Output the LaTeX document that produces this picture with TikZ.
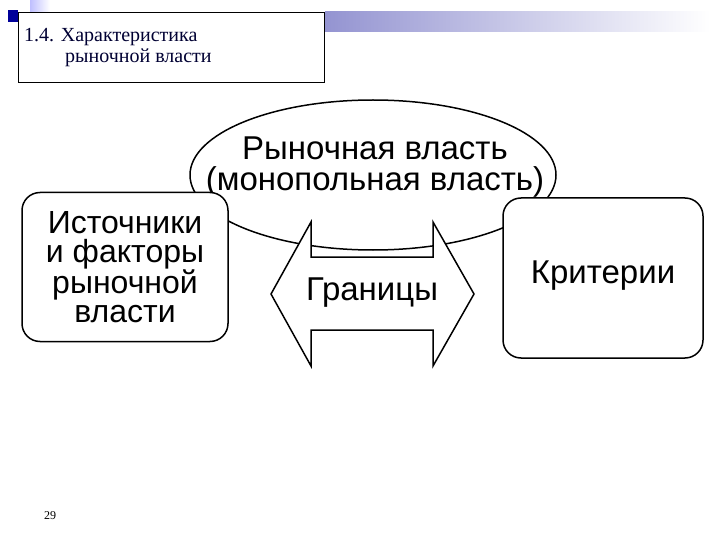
\documentclass[tikz,border=0pt]{standalone}
\usepackage{fontspec}
\setmainfont{Liberation Sans}
\newfontfamily\serif{Liberation Serif}
\begin{document}
\begin{tikzpicture}[x=1pt,y=-1pt,
  box/.style={draw,line width=1.5pt,rounded corners=18pt,fill=white},
  txt/.style={align=center,font=\fontsize{33}{31}\selectfont}]
\useasboundingbox (0,0) rectangle (720,540);
\fill[white] (0,0) rectangle (720,540);
% decoration
\shade[left color=blue!25,right color=white] (30,0) rectangle (50,45);
\shade[left color=blue!40!gray!60,right color=white] (325,12) rectangle (710,32);
\fill[blue!60!black] (8,10) rectangle (18,22);
\node[draw,line width=1.2pt,fill=white,minimum width=306pt,minimum height=70pt,anchor=north west,inner sep=0] (title) at (18,12) {};
\node[anchor=north west,align=left,font=\serif\fontsize{20}{21}\selectfont,text=blue!20!black,inner sep=0] (tt) at (24,28) {1.4. Характеристика\\\hspace*{41pt}рыночной власти};
% ellipse
\draw[line width=1.5pt,fill=white] (373,175) ellipse [x radius=183, y radius=75];
\node[txt] (e) at (375,167) {Рыночная власть\\(монопольная власть)};
% boxes
\node[box,minimum width=206pt,minimum height=149pt] (l) at (125,267) {};
\node[txt,font=\fontsize{32}{29}\selectfont] at (l) {Источники\\и факторы\\рыночной\\власти};
\node[box,minimum width=200pt,minimum height=160pt] (r) at (603,278) {};
\node[txt] at (603,276) {Критерии};
% arrow
\draw[line width=1.5pt,fill=white] (271,294) -- (311,222) -- (311,257) -- (433,257) -- (433,222) -- (474,294) -- (433,366) -- (433,330) -- (311,330) -- (311,366) -- cycle;
\node[txt] (g) at (372,293) {Границы};
\node[font=\serif\fontsize{12}{14}\selectfont] (p) at (50,516) {29};
\end{tikzpicture}
\end{document}
